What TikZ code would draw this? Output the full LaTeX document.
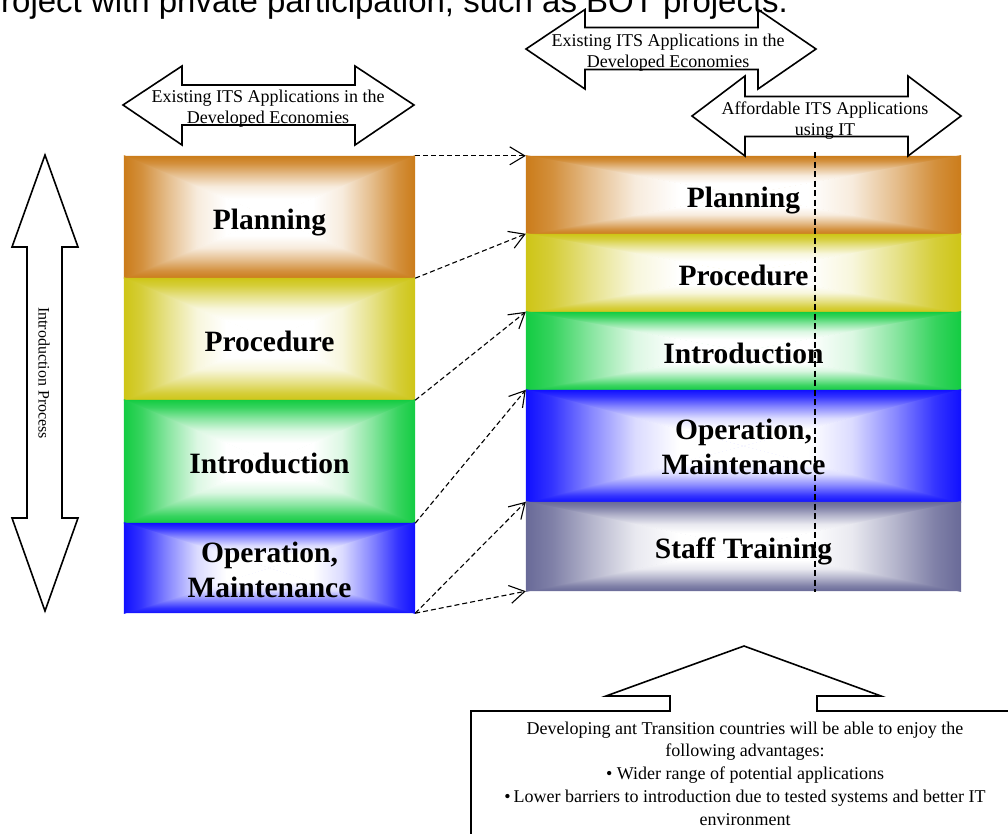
\documentclass[tikz,border=0pt]{standalone}
\usepackage{fontspec}
\setmainfont{Liberation Serif}
\newfontfamily\titlesans{Liberation Sans}
\usetikzlibrary{arrows.meta,calc}

% stage colours
\definecolor{planC}{RGB}{203,124,26}
\definecolor{procC}{RGB}{206,197,22}
\definecolor{introC}{RGB}{19,204,66}
\definecolor{operC}{RGB}{16,16,255}
\definecolor{staffC}{RGB}{105,106,152}
\colorlet{boxc}{planC}

% edge-to-centre fade: 25bp = centre of the box, 75bp = its edge
\pgfdeclareverticalshading[boxc]{edgeV}{100bp}{%
  color(0bp)=(white); color(25bp)=(white); color(40bp)=(white);
  color(50bp)=(boxc!15); color(60bp)=(boxc!50); color(69bp)=(boxc!85);
  color(75bp)=(boxc); color(100bp)=(boxc)}

\pgfdeclarelayer{bg}
\pgfsetlayers{bg,main}

% rectangular gradient: four triangles meeting in the centre of a node
\newcommand\boxshade[2]{%
  \colorlet{boxc}{#2}%
  \fill[boxc!45] (#1.north west) rectangle (#1.south east);
  \shade[shading=edgeV, shading angle=0]
    (#1.north west) -- (#1.north east) -- (#1.center) -- cycle;
  \shade[shading=edgeV, shading angle=180]
    (#1.south west) -- (#1.south east) -- (#1.center) -- cycle;
  \shade[shading=edgeV, shading angle=90]
    ($(#1.north west)+(0,-0.7)$) -- ($(#1.center)+(0.7,0)$) -- ($(#1.south west)+(0,0.7)$) -- cycle;
  \shade[shading=edgeV, shading angle=270]
    ($(#1.north east)+(0,-0.7)$) -- ($(#1.center)+(-0.7,0)$) -- ($(#1.south east)+(0,0.7)$) -- cycle;
}

\newcommand\stagefont{\fontsize{29.5}{34.5}\selectfont\bfseries}
\newcommand\notefont{\fontsize{18}{21}\selectfont}
\newcommand\boxtextfont{\fontsize{18}{22.8}\selectfont}

\tikzset{
  lstage/.style={rectangle, inner sep=0pt, minimum width=291pt, align=center, font=\stagefont},
  rstage/.style={rectangle, inner sep=0pt, minimum width=435pt, align=center, font=\stagefont},
  oneline/.style={text height=24pt, text depth=0pt},
  note/.style={inner sep=0pt, align=center, font=\notefont},
  outline/.style={draw=black, line width=1.6pt, line join=miter},
  conn/.style={draw=black, line width=1.1pt, dash pattern=on 5pt off 3pt,
    -{Straight Barb[length=15pt,width=18pt]}},
  divider/.style={draw=black, line width=1.6pt, dash pattern=on 6pt off 3.5pt}
}

\begin{document}
\begin{tikzpicture}[x=1pt,y=-1pt]
\useasboundingbox (0,0) rectangle (1008,833);
\clip (0,0) rectangle (1008,833);

% heading line, cut by the page edge
\node[anchor=base west, inner sep=0pt, font={\titlesans\fontsize{33}{38}\selectfont}]
  (head) at (1,12) {roject with private participation, such as BOT projects.};

% left column of stages
\node[lstage, oneline, minimum height=122pt] (lp) at (269.5,217)   {Planning};
\node[lstage, oneline, minimum height=122pt] (lr) at (269.5,339)   {Procedure};
\node[lstage, oneline, minimum height=123pt] (li) at (269.5,461.5) {Introduction};
\node[lstage, minimum height=90pt]  (lo) at (269.5,568)   {\rule{0pt}{24pt}Operation,\\Maintenance};

% right column of stages
\node[rstage, oneline, minimum height=78pt]  (rp) at (743.5,195)   {Planning};
\node[rstage, oneline, minimum height=78pt]  (rr) at (743.5,273)   {Procedure};
\node[rstage, oneline, minimum height=78pt]  (ri) at (743.5,351)   {Introduction};
\node[rstage, minimum height=112pt] (ro) at (743.5,446)   {\rule{0pt}{22pt}Operation,\\Maintenance};
\node[rstage, oneline, minimum height=89pt]  (rs) at (743.5,546.5) {Staff Training};

\begin{pgfonlayer}{bg}
  \boxshade{lp}{planC}
  \boxshade{lr}{procC}
  \boxshade{li}{introC}
  \boxshade{lo}{operC}
  \boxshade{rp}{planC}
  \boxshade{rr}{procC}
  \boxshade{ri}{introC}
  \boxshade{ro}{operC}
  \boxshade{rs}{staffC}
\end{pgfonlayer}

% vertical double arrow
\draw[outline] (45,155) -- (78,247) -- (62,247) -- (62,518) -- (78,518) -- (45,611)
  -- (12,518) -- (27,518) -- (27,247) -- (12,247) -- cycle;
\node[note, rotate=-90, font=\fontsize{16}{19}\selectfont] (iproc) at (44,373) {Introduction Process};

% double arrow over the left column
\draw[outline] (123,105) -- (182,66) -- (182,85) -- (355,85) -- (355,66) -- (414,105)
  -- (355,145) -- (355,125) -- (182,125) -- (182,145) -- cycle;
\node[note] (exl) at (268,109) {Existing ITS Applications in the\\Developed Economies};

% upper double arrow over the right column
\draw[outline] (526,49) -- (585,9.5) -- (585,27.5) -- (758,27.5) -- (758,9.5) -- (816,49)
  -- (758,89) -- (758,69.5) -- (585,69.5) -- (585,89) -- cycle;
\node[note] (exr) at (668,52.5) {Existing ITS Applications in the\\Developed Economies};

% lower double arrow over the right column
\draw[outline] (692,116) -- (745,76) -- (745,96.5) -- (908,96.5) -- (908,76) -- (961,116)
  -- (908,156) -- (908,136.5) -- (745,136.5) -- (745,156) -- cycle;
\node[note] (aff) at (825,121) {Affordable ITS Applications\\using IT};

% dashed links between the two columns
\draw[conn] (lp.north east) -- (rp.north west);
\draw[conn] (lp.south east) -- (rr.north west);
\draw[conn] (lr.south east) -- (ri.north west);
\draw[conn] (li.south east) -- (ro.north west);
\draw[conn] (lo.south east) -- (rs.north west);
\draw[conn] (lo.south east) -- (rs.south west);

% dashed divider across the right column
\coordinate (vtop) at (815,152);
\coordinate (vbot) at (815,592);
\draw[divider] (vtop) -- (vbot);

% up-arrow callout
\draw[outline] (471,845) -- (471,711) -- (670,711) -- (670,696) -- (606,696) -- (744,646)
  -- (881,696) -- (817,696) -- (817,711) -- (1015,711) -- (1015,845);
\node[inner sep=0pt, align=center, font=\boxtextfont] (adv) at (745,773.5)
  {Developing ant Transition countries will be able to enjoy the\\
   following advantages:\\
   \textbullet\ Wider range of potential applications\\
   \textbullet\,Lower barriers to introduction due to tested systems and better IT\\
   environment};
\end{tikzpicture}
\end{document}
